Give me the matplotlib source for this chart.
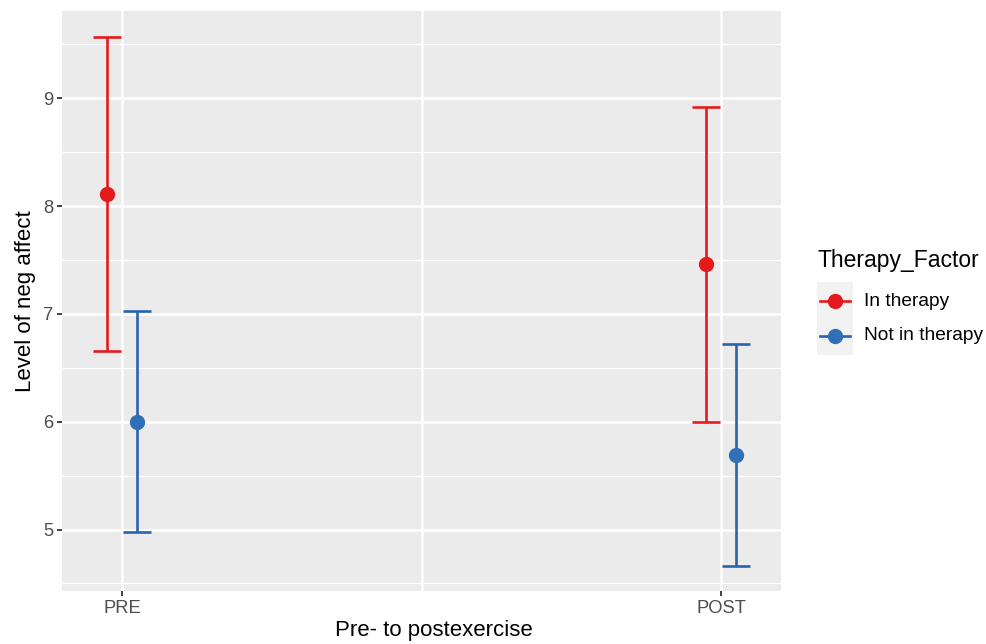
import matplotlib.pyplot as plt
from matplotlib.lines import Line2D
from matplotlib.patches import Rectangle

plt.rcParams['font.family'] = ['Liberation Sans', 'DejaVu Sans']

times = ["PRE", "POST"]
groups = ["In therapy", "Not in therapy"]
colors = ["#E41A1C", "#2A63AF"]
point_colors = ["#E41A1C", "#3070B8"]

means = {"In therapy": [8.11, 7.46], "Not in therapy": [6.00, 5.69]}
upper = {"In therapy": [9.57, 8.92], "Not in therapy": [7.03, 6.72]}
lower = {"In therapy": [6.66, 6.00], "Not in therapy": [4.98, 4.66]}

fig = plt.figure(figsize=(9.87, 6.44), dpi=100)
ax = fig.add_axes([62/987, 1-591/644, (781-62)/987, (591-11)/644])
ax.set_facecolor("#EBEBEB")

ax.set_xlim(0.9, 2.1)
ax.set_ylim(4.43, 9.81)

# grid
for y in [4.5, 5.5, 6.5, 7.5, 8.5, 9.5]:
    ax.axhline(y, color="white", lw=0.9, zorder=0)
for y in [5, 6, 7, 8, 9]:
    ax.axhline(y, color="white", lw=1.8, zorder=0)
for x in [1, 1.5, 2]:
    ax.axvline(x, color="white", lw=1.8, zorder=0)

dodge = 0.025
capw = 0.0235
for i, g in enumerate(groups):
    off = -dodge if i == 0 else dodge
    for j, t in enumerate(times):
        x = j + 1 + off
        ax.plot([x, x], [lower[g][j], upper[g][j]], color=colors[i], lw=1.9, zorder=2, solid_capstyle="butt")
        ax.plot([x - capw, x + capw], [upper[g][j]]*2, color=colors[i], lw=1.9, zorder=2, solid_capstyle="butt")
        ax.plot([x - capw, x + capw], [lower[g][j]]*2, color=colors[i], lw=1.9, zorder=2, solid_capstyle="butt")
        ax.plot([x], [means[g][j]], marker="o", ms=10, color=point_colors[i], mec=point_colors[i], zorder=3)

ax.set_xticks([1, 2])
ax.set_xticklabels(times)
ax.set_yticks([5, 6, 7, 8, 9])
ax.tick_params(axis="both", colors="#333333", labelcolor="#4D4D4D", labelsize=13.2, length=3.5, width=1.3, pad=3)
for s in ax.spines.values():
    s.set_visible(False)

ax.set_xlabel("Pre- to postexercise", fontsize=16, color="black")
ax.xaxis.set_label_coords((434-62)/719, (591-620)/580)
ax.set_ylabel("Level of neg affect", fontsize=16, color="black", labelpad=5)

# legend
fig.text(818/987, 1-260/644, "Therapy_Factor", fontsize=16.5, va="center", ha="left")
fig.add_artist(Rectangle((817/987, 1-355/644), 36/987, 73/644, transform=fig.transFigure,
                         facecolor="#F2F2F2", edgecolor="none"))
for i, g in enumerate(groups):
    yk = 1 - (301 + 35*i)/644
    fig.add_artist(Line2D([820/987, 850/987], [yk, yk], transform=fig.transFigure, color=colors[i], lw=1.9))
    fig.add_artist(Line2D([835/987], [yk], transform=fig.transFigure, marker="o", ms=10,
                          color=point_colors[i], mec=point_colors[i]))
    fig.text(864/987, yk, g, fontsize=13.8, va="center", ha="left")

fig.savefig("out.png", dpi=100)
